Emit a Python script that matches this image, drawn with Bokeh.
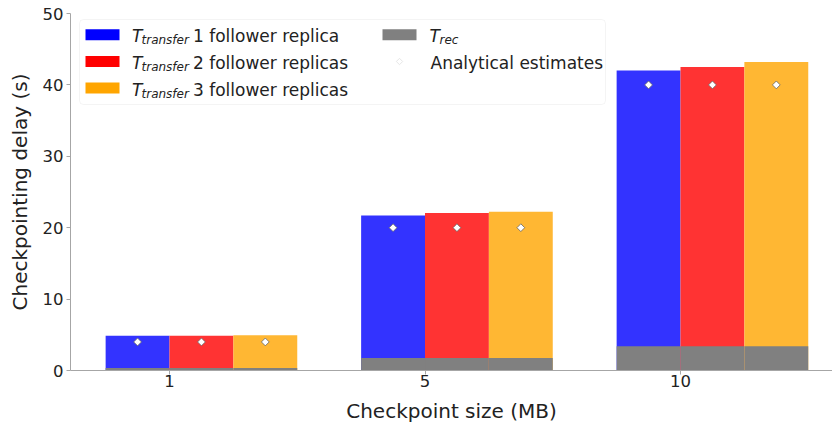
import math
from bokeh.plotting import figure
from bokeh.models import FixedTicker, Range1d, BoxAnnotation, Label, ColumnDataSource
from bokeh.embed import file_html
from bokeh.resources import INLINE

# ---------------- data ----------------
sizes = ["1", "5", "10"]                 # checkpoint size (MB)
xpos = [0, 1, 2]
total_1_replica = [4.86, 21.7, 42.0]     # T_transfer + T_rec, 1 follower replica
total_2_replicas = [4.86, 22.05, 42.5]
total_3_replicas = [4.95, 22.25, 43.2]
t_rec = [0.35, 1.75, 3.4]
analytical = [4.0, 20.0, 40.0]
y_ticks = [0, 10, 20, 30, 40, 50]

FONT = "DejaVu Sans"
W, H = 832, 428
# frame placement in canvas pixels
FL, FR, FT, FB = 70, 832, 13, 370
X0 = -0.3875
X1 = X0 + (FR - FL) / 255.5
Y0, Y1 = 0, 50

p = figure(width=W, height=H, output_backend="svg", toolbar_location=None,
           x_range=Range1d(X0, X1), y_range=Range1d(Y0, Y1),
           min_border_left=FL, min_border_right=W - FR,
           min_border_top=FT, min_border_bottom=H - FB)
p.outline_line_color = None
p.xgrid.visible = False
p.ygrid.visible = False
p.background_fill_color = "white"
p.border_fill_color = "white"

bw = 0.25
series = [(total_1_replica, -0.125, "#3333ff"),
          (total_2_replicas, 0.125, "#ff3333"),
          (total_3_replicas, 0.375, "#ffb733")]
for vals, off, col in series:
    xs = [x + off for x in xpos]
    src = ColumnDataSource(dict(x=xs, top=vals, rec=t_rec, est=analytical))
    p.vbar(x="x", top="top", bottom=0, width=bw, source=src,
           fill_color=col, line_color=None)
    p.vbar(x="x", top="rec", bottom=0, width=bw, source=src,
           fill_color="#808080", line_color=None)
    p.scatter(x="x", y="est", source=src, marker="square", angle=math.pi / 4,
              size=5.5, fill_color="white", line_color="#666666", line_width=0.8)

# axes
p.xaxis.ticker = FixedTicker(ticks=xpos)
p.xaxis.major_label_overrides = {x: s for x, s in zip(xpos, sizes)}
p.yaxis.ticker = FixedTicker(ticks=y_ticks)
for ax in (p.xaxis[0], p.yaxis[0]):
    ax.axis_line_color = "#a6a6a6"
    ax.major_tick_line_color = "#a6a6a6"
    ax.minor_tick_line_color = None
    ax.major_tick_in = 0
    ax.major_tick_out = 4
    ax.major_label_text_font = FONT
    ax.major_label_text_font_size = "16.5px"
    ax.major_label_text_color = "#222222"
    ax.axis_label_text_font = FONT
    ax.axis_label_text_font_size = "20px"
    ax.axis_label_text_font_style = "normal"
    ax.axis_label_text_color = "#222222"
p.xaxis.axis_label = "Checkpoint size (MB)"
p.yaxis.axis_label = "Checkpointing delay (s)"
p.xaxis.major_label_standoff = 0
p.xaxis.axis_label_standoff = 9
p.yaxis.major_label_standoff = 3
p.yaxis.axis_label_standoff = 8


# ---------------- legend (hand-built for subscripts) ----------------
def dx(px):
    return X0 + (px - FL) / (FR - FL) * (X1 - X0)


def dy(py):
    return Y0 + (FB - py) / (FB - FT) * (Y1 - Y0)


p.add_layout(BoxAnnotation(left=dx(79), right=dx(605), top=dy(19), bottom=dy(104),
                           fill_color="white", fill_alpha=0.85,
                           line_color="#d9d9d9", line_width=1, border_radius=4))

rows = [34.2, 61.0, 87.6]
col1_items = [("#0000ff", "1 follower replica"),
              ("#ff0000", "2 follower replicas"),
              ("#ffa500", "3 follower replicas")]

BASE = 1.5   # baseline offset from row centre (Bokeh-rendered)
SUB = 4.0    # extra drop of the subscript


def txt(x, y, t, size, style="normal"):
    p.add_layout(Label(x=dx(x), y=dy(y), text=t, text_font=FONT,
                       text_font_size=size, text_font_style=style,
                       text_color="#222222", text_align="left",
                       text_baseline="alphabetic"))


for (col, lab), rc in zip(col1_items, rows):
    p.add_layout(BoxAnnotation(left=dx(85), right=dx(119), top=dy(rc - 5.5),
                               bottom=dy(rc + 5.5), fill_color=col, fill_alpha=1,
                               line_color=None))
    txt(131.5, rc + BASE, "T", "17px", "italic")
    txt(141.0, rc + BASE + SUB, "transfer", "12px", "italic")
    txt(192.5, rc + BASE, lab, "17px")

# column 2
p.add_layout(BoxAnnotation(left=dx(382), right=dx(416), top=dy(rows[0] - 5.5),
                           bottom=dy(rows[0] + 5.5), fill_color="#808080",
                           fill_alpha=1, line_color=None))
txt(429.0, rows[0] + BASE, "T", "17px", "italic")
txt(439.0, rows[0] + BASE + SUB, "rec", "12px", "italic")
p.scatter(x=[dx(399)], y=[dy(rows[1])], marker="square", angle=math.pi / 4,
          size=4.5, fill_color="white", line_color="#555555", line_width=1)
txt(430.0, rows[1] + BASE, "Analytical estimates", "17px")

open("out.html", "w").write(file_html(p, INLINE))
